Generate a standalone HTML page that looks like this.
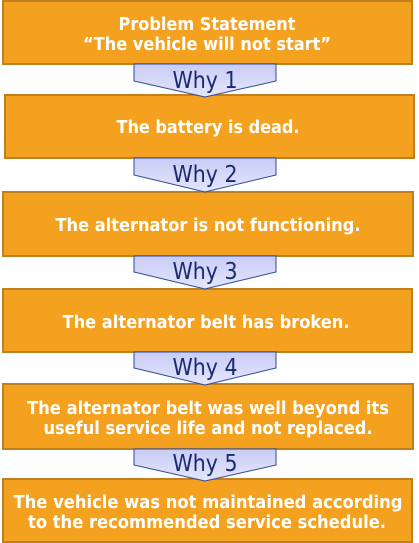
<!DOCTYPE html>
<html><head><meta charset="utf-8"><style>
html,body{margin:0;padding:0;background:#fff;width:419px;height:543px;overflow:hidden}
svg{display:block}
.b{fill:#f4a11f;stroke:#bf8120;stroke-width:2}
.a{fill:url(#g);stroke:#2d4a9a;stroke-width:1}
.t{font-family:"DejaVu Sans","Liberation Sans",sans-serif;font-weight:bold;font-size:18px;fill:#fff;text-anchor:middle}
.w{font-family:"DejaVu Sans","Liberation Sans",sans-serif;font-size:23px;fill:#1a2a6e;text-anchor:middle}
</style></head><body>
<svg width="419" height="543" viewBox="0 0 419 543">
<defs><linearGradient id="g" x1="0" y1="0" x2="0" y2="1"><stop offset="0" stop-color="#c9ccf5"/><stop offset="1" stop-color="#e4e6fb"/></linearGradient></defs>
<rect class="b" x="3" y="1" width="409" height="63"/>
<rect class="b" x="5" y="95" width="409" height="63"/>
<rect class="b" x="3" y="192" width="410" height="64"/>
<rect class="b" x="3" y="289" width="409" height="63"/>
<rect class="b" x="3" y="384" width="410" height="65"/>
<rect class="b" x="3" y="479" width="409" height="63"/>

<polygon class="a" points="134,64 276,64 276,81 205,97 134,81"/>
<polygon class="a" points="134,158 276,158 276,175 205,192 134,175"/>
<polygon class="a" points="134,256 276,256 276,272 205,289 134,272"/>
<polygon class="a" points="134,352 276,352 276,368 205,385 134,368"/>
<polygon class="a" points="134,449 276,449 276,465 205,481 134,465"/>

<text class="t" x="207" y="30" textLength="177" lengthAdjust="spacingAndGlyphs">Problem Statement</text>
<text class="t" x="207" y="50" textLength="248" lengthAdjust="spacingAndGlyphs">“The vehicle will not start”</text>
<text class="w" x="205" y="88" textLength="65" lengthAdjust="spacingAndGlyphs">Why 1</text>
<text class="t" x="208" y="133" textLength="183" lengthAdjust="spacingAndGlyphs">The battery is dead.</text>
<text class="w" x="205" y="182" textLength="65" lengthAdjust="spacingAndGlyphs">Why 2</text>
<text class="t" x="208" y="231" textLength="305" lengthAdjust="spacingAndGlyphs">The alternator is not functioning.</text>
<text class="w" x="205" y="279" textLength="65" lengthAdjust="spacingAndGlyphs">Why 3</text>
<text class="t" x="206" y="328" textLength="287" lengthAdjust="spacingAndGlyphs">The alternator belt has broken.</text>
<text class="w" x="205" y="375" textLength="65" lengthAdjust="spacingAndGlyphs">Why 4</text>
<text class="t" x="208" y="414" textLength="362" lengthAdjust="spacingAndGlyphs">The alternator belt was well beyond its</text>
<text class="t" x="208" y="434" textLength="329" lengthAdjust="spacingAndGlyphs">useful service life and not replaced.</text>
<text class="w" x="205" y="471" textLength="65" lengthAdjust="spacingAndGlyphs">Why 5</text>
<text class="t" x="208" y="508" textLength="389" lengthAdjust="spacingAndGlyphs">The vehicle was not maintained according</text>
<text class="t" x="207" y="528" textLength="358" lengthAdjust="spacingAndGlyphs">to the recommended service schedule.</text>
</svg>
</body></html>
